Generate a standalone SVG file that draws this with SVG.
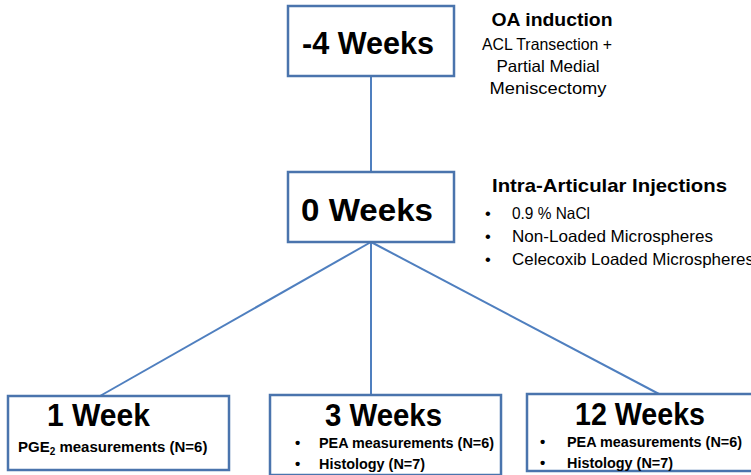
<svg xmlns="http://www.w3.org/2000/svg" width="751" height="475" viewBox="0 0 751 475">
<style>
.box{fill:#fff;stroke:#4a74ad;stroke-width:2.5}
.ln{stroke:#4f7fbf;stroke-width:2;fill:none}
text{font-family:"Liberation Sans",Arial,sans-serif;fill:#000}
.big{font-size:31px;font-weight:bold}
.hd{font-size:18.5px;font-weight:bold}
.rg{font-size:16.5px}
.sm{font-size:15px;font-weight:bold}
</style>
<rect width="751" height="475" fill="#fff"/>
<g id="connectors">
<line class="ln" x1="371" y1="76" x2="371" y2="171"/>
<line class="ln" x1="371" y1="242" x2="100" y2="396"/>
<line class="ln" x1="371" y1="242" x2="371" y2="395"/>
<line class="ln" x1="371" y1="242" x2="659" y2="394"/>
</g>
<g id="node-minus4">
<rect class="box" x="288" y="6" width="166" height="70"/>
<text class="big" x="302" y="54" textLength="132" lengthAdjust="spacingAndGlyphs">-4 Weeks</text>
</g>
<g id="label-oa">
<text class="hd" x="552" y="26" text-anchor="middle" textLength="121" lengthAdjust="spacingAndGlyphs">OA induction</text>
<text class="rg" x="547" y="50" text-anchor="middle" textLength="130" lengthAdjust="spacingAndGlyphs">ACL Transection +</text>
<text class="rg" x="548" y="72" text-anchor="middle" textLength="103" lengthAdjust="spacingAndGlyphs">Partial Medial</text>
<text class="rg" x="548" y="94" text-anchor="middle" textLength="117" lengthAdjust="spacingAndGlyphs">Meniscectomy</text>
</g>
<g id="node-0">
<rect class="box" x="288" y="172" width="166" height="70"/>
<text class="big" x="301" y="221" textLength="132" lengthAdjust="spacingAndGlyphs">0 Weeks</text>
</g>
<g id="label-injections">
<text class="hd" x="492" y="192" textLength="235" lengthAdjust="spacingAndGlyphs">Intra-Articular Injections</text>
<text class="rg" x="485" y="219">•</text>
<text class="rg" x="512" y="219" textLength="78" lengthAdjust="spacingAndGlyphs">0.9 % NaCl</text>
<text class="rg" x="485" y="242">•</text>
<text class="rg" x="512" y="242" textLength="201" lengthAdjust="spacingAndGlyphs">Non-Loaded Microspheres</text>
<text class="rg" x="485" y="265">•</text>
<text class="rg" x="512" y="265" textLength="242" lengthAdjust="spacingAndGlyphs">Celecoxib Loaded Microspheres</text>
</g>
<g id="node-1week">
<rect class="box" x="8" y="396" width="221" height="74"/>
<text class="big" x="47" y="426" textLength="103" lengthAdjust="spacingAndGlyphs">1 Week</text>
<text class="sm" x="18" y="452">PGE<tspan font-size="10px" dy="3">2</tspan><tspan dy="-3"> measurements (N=6)</tspan></text>
</g>
<g id="node-3weeks">
<rect class="box" x="270" y="395" width="231" height="80"/>
<text class="big" x="325" y="426" textLength="117" lengthAdjust="spacingAndGlyphs">3 Weeks</text>
<text class="sm" x="295" y="448">•</text>
<text class="sm" x="319" y="448" textLength="175" lengthAdjust="spacingAndGlyphs">PEA measurements (N=6)</text>
<text class="sm" x="295" y="469">•</text>
<text class="sm" x="319" y="469" textLength="106" lengthAdjust="spacingAndGlyphs">Histology (N=7)</text>
</g>
<g id="node-12weeks">
<rect class="box" x="527" y="394" width="240" height="77"/>
<text class="big" x="575" y="425" textLength="130" lengthAdjust="spacingAndGlyphs">12 Weeks</text>
<text class="sm" x="540" y="447">•</text>
<text class="sm" x="567" y="447" textLength="175" lengthAdjust="spacingAndGlyphs">PEA measurements (N=6)</text>
<text class="sm" x="540" y="468">•</text>
<text class="sm" x="567" y="468" textLength="106" lengthAdjust="spacingAndGlyphs">Histology (N=7)</text>
</g>
</svg>
